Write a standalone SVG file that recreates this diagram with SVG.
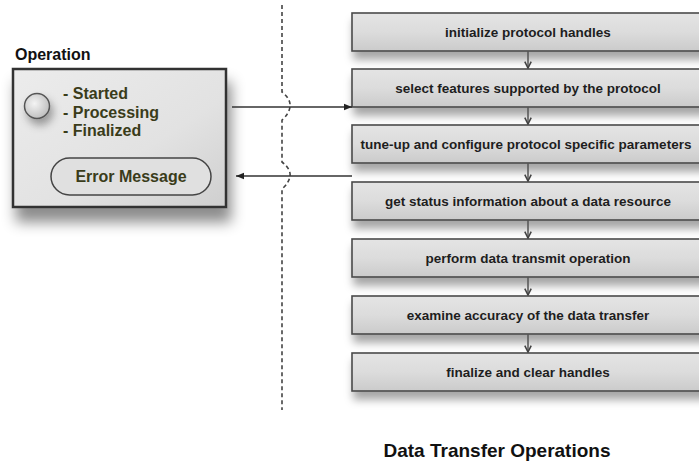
<svg xmlns="http://www.w3.org/2000/svg" width="699" height="464" viewBox="0 0 699 464">
<defs>
<linearGradient id="boxg" x1="0" y1="0" x2="0" y2="1">
<stop offset="0" stop-color="#e4e4e4"/>
<stop offset="0.5" stop-color="#dcdcdc"/>
<stop offset="1" stop-color="#cbcbcb"/>
</linearGradient>
<linearGradient id="opg" x1="0" y1="0" x2="1" y2="1">
<stop offset="0" stop-color="#ececec"/>
<stop offset="0.6" stop-color="#e2e2e2"/>
<stop offset="1" stop-color="#cfcfcf"/>
</linearGradient>
<radialGradient id="circg" cx="0.4" cy="0.4" r="0.7">
<stop offset="0" stop-color="#f4f4f4"/>
<stop offset="1" stop-color="#b8b8b8"/>
</radialGradient>
<filter id="sh" x="-10%" y="-30%" width="120%" height="180%">
<feDropShadow dx="2" dy="8" stdDeviation="4" flood-color="#000" flood-opacity="0.35"/>
</filter>
<filter id="shop" x="-20%" y="-20%" width="150%" height="150%">
<feDropShadow dx="4" dy="14" stdDeviation="7" flood-color="#000" flood-opacity="0.45"/>
</filter>
<filter id="shc" x="-50%" y="-50%" width="250%" height="250%">
<feDropShadow dx="3" dy="6" stdDeviation="4" flood-color="#000" flood-opacity="0.35"/>
</filter>
<marker id="ah" viewBox="0 0 10 10" refX="10" refY="5" markerWidth="8" markerHeight="8" markerUnits="userSpaceOnUse" orient="auto">
<path d="M0,1 L10,5 L0,9 Z" fill="#222"/>
</marker>
<marker id="sah" viewBox="0 0 10 10" refX="9" refY="5" markerWidth="8" markerHeight="8" markerUnits="userSpaceOnUse" orient="auto">
<path d="M1,1 L9,5 L1,9" fill="none" stroke="#444" stroke-width="2"/>
</marker>
</defs>
<style>
.box{fill:url(#boxg);stroke:#4a4a4a;stroke-width:1.6;filter:url(#sh)}
.bt{font-family:"Liberation Sans",Arial,sans-serif;font-weight:bold;font-size:13.5px;fill:#1e1e1e;text-anchor:middle}
.ot{font-family:"Liberation Sans",Arial,sans-serif;font-weight:bold;font-size:16px;fill:#3a3c1a}
.lbl{font-family:"Liberation Sans",Arial,sans-serif;font-weight:bold;fill:#111}
.conn{stroke:#333;stroke-width:1.5;fill:none}
.sconn{stroke:#555;stroke-width:1.5;fill:none}
.dash{stroke:#444;stroke-width:1.6;fill:none;stroke-dasharray:4 3}
</style>

<text class="lbl" x="15" y="60" font-size="16">Operation</text>

<g id="operation">
<rect x="13" y="69" width="213" height="138" fill="url(#opg)" stroke="#333" stroke-width="2.5" filter="url(#shop)"/>
<circle cx="37" cy="106" r="12.5" fill="url(#circg)" stroke="#555" stroke-width="1.5" filter="url(#shc)"/>
<text class="ot" x="63" y="99">- Started</text>
<text class="ot" x="63" y="117.5">- Processing</text>
<text class="ot" x="63" y="136">- Finalized</text>
<g id="error-message">
<rect x="51" y="158" width="160" height="37" rx="18.5" fill="#e0e0e0" stroke="#444" stroke-width="1.5"/>
<text class="ot" x="131" y="182" font-size="16.5" text-anchor="middle">Error Message</text>
</g>
</g>

<g id="n1"><rect class="box" x="352" y="13" width="360" height="38"/><text class="bt" x="528" y="37">initialize protocol handles</text></g>
<g id="n2"><rect class="box" x="352" y="69" width="360" height="38"/><text class="bt" x="528" y="93">select features supported by the protocol</text></g>
<g id="n3"><rect class="box" x="352" y="125" width="360" height="38"/><text class="bt" x="526" y="149">tune-up and configure protocol specific parameters</text></g>
<g id="n4"><rect class="box" x="352" y="182" width="360" height="38"/><text class="bt" x="528" y="206">get status information about a data resource</text></g>
<g id="n5"><rect class="box" x="352" y="239" width="360" height="38"/><text class="bt" x="528" y="263">perform data transmit operation</text></g>
<g id="n6"><rect class="box" x="352" y="296" width="360" height="38"/><text class="bt" x="528" y="320">examine accuracy of the data transfer</text></g>
<g id="n7"><rect class="box" x="352" y="353" width="360" height="38"/><text class="bt" x="528" y="377">finalize and clear handles</text></g>

<g id="connectors">
<path class="dash" d="M282,5 V92 Q291,99 290,107 Q289,114 282,120 V162 Q291,169 290,176 Q289,183 282,189 V410"/>
<line class="conn" x1="232" y1="107" x2="352" y2="107" marker-end="url(#ah)"/>
<line class="conn" x1="352" y1="176" x2="236" y2="176" marker-end="url(#ah)"/>
<line class="sconn" x1="528" y1="51" x2="528" y2="68" marker-end="url(#sah)"/>
<line class="sconn" x1="528" y1="107" x2="528" y2="124" marker-end="url(#sah)"/>
<line class="sconn" x1="528" y1="163" x2="528" y2="181" marker-end="url(#sah)"/>
<line class="sconn" x1="528" y1="220" x2="528" y2="238" marker-end="url(#sah)"/>
<line class="sconn" x1="528" y1="277" x2="528" y2="295" marker-end="url(#sah)"/>
<line class="sconn" x1="528" y1="334" x2="528" y2="352" marker-end="url(#sah)"/>
</g>

<text class="lbl" x="497" y="457" font-size="19" text-anchor="middle">Data Transfer Operations</text>
</svg>
